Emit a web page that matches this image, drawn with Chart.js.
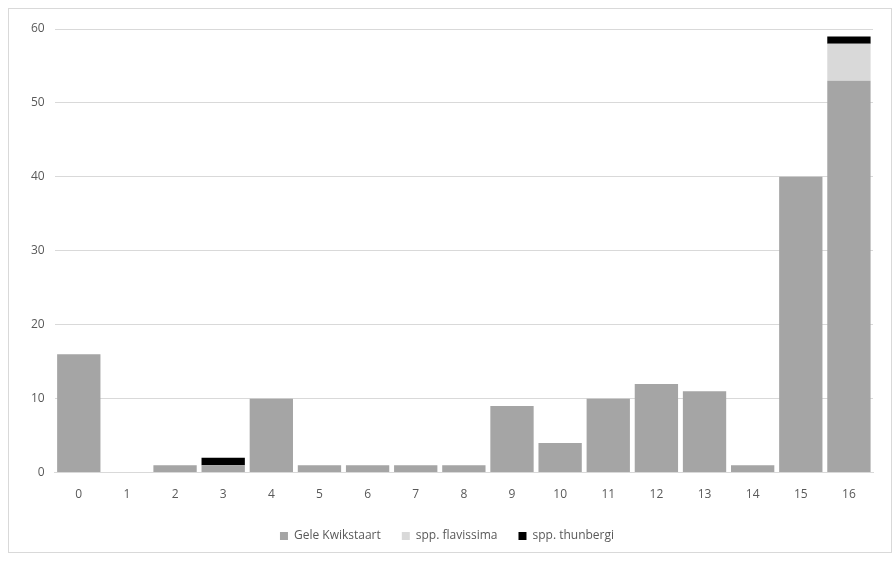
<!DOCTYPE html>
<html>
<head>
<meta charset="utf-8">
<script src="https://cdn.jsdelivr.net/npm/chart.js@4"></script>
<style>
  html, body { margin: 0; padding: 0; background: #fff; }
  #wrap { position: absolute; left: 8px; top: 8px; width: 884px; height: 545px; border: 1px solid #d9d9d9; box-sizing: border-box; }
  canvas { display: block; }
</style>
</head>
<body>
<div id="wrap"><canvas id="chart"></canvas></div>
<script>
const categories = ['0','1','2','3','4','5','6','7','8','9','10','11','12','13','14','15','16'];
const geleKwikstaart = [16, 0, 1, 1, 10, 1, 1, 1, 1, 9, 4, 10, 12, 11, 1, 40, 53];
const flavissima = [0, 0, 0, 0, 0, 0, 0, 0, 0, 0, 0, 0, 0, 0, 0, 0, 5];
const thunbergi = [0, 0, 0, 1, 0, 0, 0, 0, 0, 0, 0, 0, 0, 0, 0, 0, 1];

const ctx = document.getElementById('chart').getContext('2d');
new Chart(ctx, {
  type: 'bar',
  data: {
    labels: categories,
    datasets: [
      { label: 'Gele Kwikstaart', data: geleKwikstaart, backgroundColor: '#a5a5a5' },
      { label: 'spp. flavissima', data: flavissima, backgroundColor: '#d9d9d9' },
      { label: 'spp. thunbergi', data: thunbergi, backgroundColor: '#000000' }
    ]
  },
  options: {
    responsive: true,
    maintainAspectRatio: false,
    animation: false,
    datasets: { bar: { barPercentage: 0.9, categoryPercentage: 1.0 } },
    layout: { padding: { left: 12, right: 18, top: 20, bottom: 0 } },
    plugins: {
      legend: {
        position: 'bottom',
        labels: { boxWidth: 8, boxHeight: 8, color: '#595959', font: { family: 'Open Sans', size: 12 }, padding: 21 }
      },
      tooltip: { enabled: false }
    },
    scales: {
      x: {
        stacked: true,
        grid: { display: false },
        border: { color: '#d9d9d9' },
        ticks: { color: '#595959', font: { family: 'Open Sans', size: 12 }, padding: 7 }
      },
      y: {
        stacked: true,
        min: 0, max: 60,
        ticks: { stepSize: 10, color: '#595959', font: { family: 'Open Sans', size: 12 }, padding: 10 },
        grid: { color: '#d9d9d9', drawTicks: false },
        border: { display: false }
      }
    }
  }
});
</script>
</body>
</html>
